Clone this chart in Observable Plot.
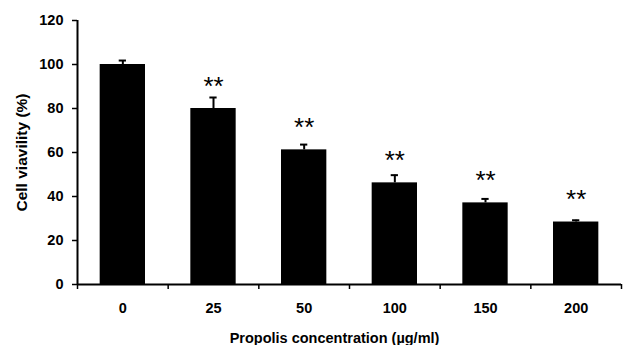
<!DOCTYPE html>
<html>
<head>
<meta charset="utf-8">
<script src="https://cdn.jsdelivr.net/npm/d3@7"></script>
<script src="https://cdn.jsdelivr.net/npm/@observablehq/plot@0.6"></script>
<style>
  html, body { margin: 0; padding: 0; background: #fff; }
  #chart svg { display: block; }
</style>
</head>
<body>
<div id="chart"></div>
<script>
// Data
const concentrations = ["0", "25", "50", "100", "150", "200"];
const viability = [100, 80, 61.2, 46.2, 37.1, 28.4];
const errors = [1.8, 5.0, 2.4, 3.5, 1.8, 0.8];
const significance = ["", "**", "**", "**", "**", "**"];
const yTicks = [0, 20, 40, 60, 80, 100, 120];
const xTitle = "Propolis concentration (µg/ml)";
const yTitle = "Cell viavility (%)";

const data = concentrations.map((c, i) => ({
  i, conc: c, v: viability[i], e: errors[i], sig: significance[i]
}));

const font = "'Liberation Sans', Arial, Helvetica, sans-serif";

const chart = Plot.plot({
  width: 624,
  height: 345,
  marginLeft: 77,
  marginRight: 3,
  marginTop: 20,
  marginBottom: 61,
  style: { fontFamily: font, background: "#fff", color: "#000" },
  x: { type: "linear", domain: [0, concentrations.length], axis: null },
  y: { domain: [0, 120], axis: null },
  marks: [
    // bars
    Plot.rectY(data, { x1: d => d.i + 0.25, x2: d => d.i + 0.75, y: "v", fill: "#000" }),
    // error bars
    Plot.ruleX(data, { x: d => d.i + 0.5, y1: "v", y2: d => d.v + d.e, stroke: "#000", strokeWidth: 2 }),
    Plot.ruleY(data, { y: d => d.v + d.e, x1: d => d.i + 0.46, x2: d => d.i + 0.54, stroke: "#000", strokeWidth: 2 }),
    // significance stars
    Plot.text(data, { x: d => d.i + 0.5, y: "v", text: "sig", dy: -22, fontSize: 26, fontFamily: font, fill: "#000" }),
    // axis lines
    Plot.ruleX([0], { y1: 0, y2: 120, stroke: "#000", strokeWidth: 2 }),
    Plot.ruleY([0], { stroke: "#000", strokeWidth: 2 }),
    // y axis
    Plot.axisY({ ticks: yTicks, tickSize: 5, tickPadding: 9, fontSize: 14.5, fontWeight: "bold", label: null, stroke: "#000", strokeWidth: 1.5 }),
    // x axis ticks at band boundaries
    Plot.axisX({ ticks: d3.range(concentrations.length + 1), tickSize: 5, tickFormat: () => "", label: null, stroke: "#000", strokeWidth: 1.5 }),
    // x category labels
    Plot.text(data, { x: d => d.i + 0.5, y: 0, text: "conc", dy: 24, fontSize: 14.5, fontWeight: "bold", fill: "#000" }),
    // titles
    Plot.text([xTitle], { frameAnchor: "bottom", text: d => d, dx: -15, dy: 58, fontSize: 14.5, fontWeight: "bold", fill: "#000" }),
    Plot.text([yTitle], { frameAnchor: "left", textAnchor: "middle", text: d => d, rotate: -90, dx: -55, fontSize: 15.5, fontWeight: "bold", fill: "#000" })
  ]
});

document.getElementById("chart").appendChild(chart);
</script>
</body>
</html>
